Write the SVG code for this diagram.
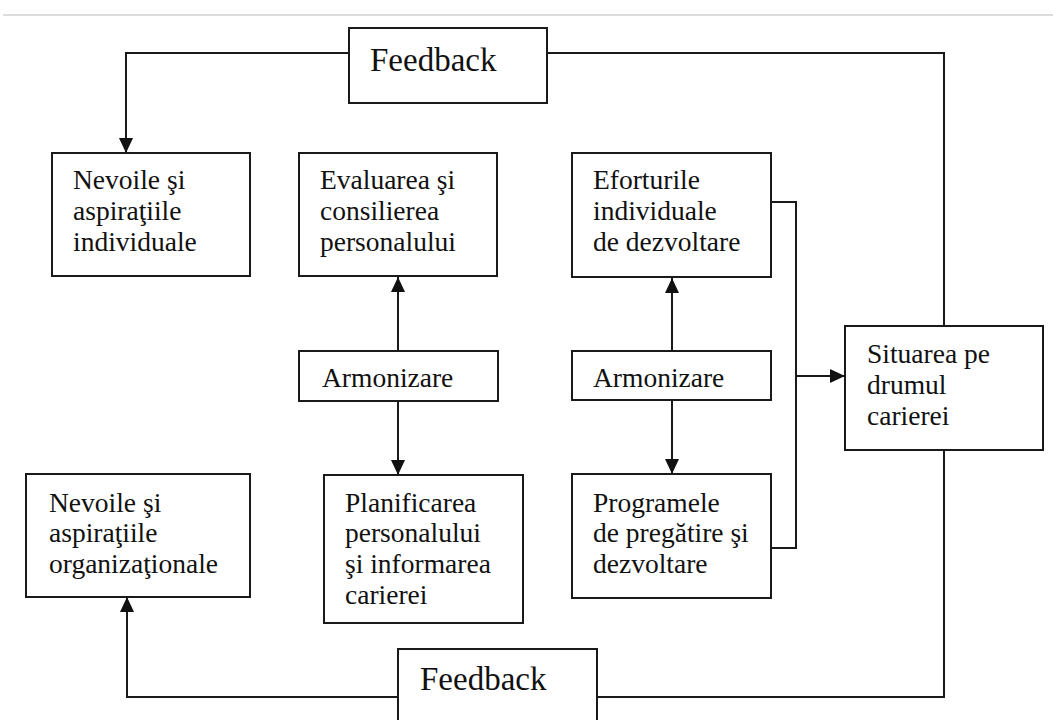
<svg xmlns="http://www.w3.org/2000/svg" width="1053" height="720" viewBox="0 0 1053 720">
  <defs>
    <marker id="arrow" viewBox="0 0 15 14" refX="15" refY="7" markerWidth="15" markerHeight="14" markerUnits="userSpaceOnUse" orient="auto">
      <path d="M0,0 L15,7 L0,14 Z" fill="#111"/>
    </marker>
    <style>
      .box { fill: #fff; stroke: #1a1a1a; stroke-width: 2; }
      .wire { fill: none; stroke: #1a1a1a; stroke-width: 2; }
      .arr { marker-end: url(#arrow); }
    </style>
  </defs>

  <rect width="1053" height="720" fill="#fff"/>
  <line x1="3" y1="15" x2="1053" y2="15" stroke="#dcdcdc" stroke-width="2"/>

  <!-- connectors -->
  <g id="connectors">
    <path class="wire arr" d="M349,53 H126 V153"/>
    <path class="wire" d="M547,53 H944 V326"/>
    <path class="wire arr" d="M398,351 V277"/>
    <path class="wire arr" d="M398,401 V475"/>
    <path class="wire arr" d="M672,351 V278"/>
    <path class="wire arr" d="M672,400 V474"/>
    <path class="wire" d="M771,202 H796 V548 H771"/>
    <path class="wire arr" d="M796,376 H845"/>
    <path class="wire" d="M944,450 V697 H597"/>
    <path class="wire arr" d="M398,697 H127 V597"/>
  </g>

  <g font-family="'Liberation Serif', 'Times New Roman', serif" font-size="27.5" fill="#111">
    <g id="feedback-top">
      <rect class="box" x="349" y="28" width="198" height="75"/>
      <text x="370" y="71" font-size="33">Feedback</text>
    </g>

    <g id="nevoi-individuale">
      <rect class="box" x="52" y="153" width="198" height="123"/>
      <text x="73" y="189">Nevoile şi</text>
      <text x="73" y="220">aspiraţiile</text>
      <text x="73" y="251">individuale</text>
    </g>

    <g id="evaluarea">
      <rect class="box" x="299" y="153" width="198" height="123"/>
      <text x="320" y="189">Evaluarea şi</text>
      <text x="320" y="220">consilierea</text>
      <text x="320" y="251">personalului</text>
    </g>

    <g id="eforturile">
      <rect class="box" x="572" y="153" width="199" height="124"/>
      <text x="593" y="189">Eforturile</text>
      <text x="593" y="220">individuale</text>
      <text x="593" y="251">de dezvoltare</text>
    </g>

    <g id="armonizare-1">
      <rect class="box" x="299" y="351" width="199" height="50"/>
      <text x="322" y="387">Armonizare</text>
    </g>

    <g id="armonizare-2">
      <rect class="box" x="572" y="351" width="199" height="49"/>
      <text x="593" y="387">Armonizare</text>
    </g>

    <g id="situarea">
      <rect class="box" x="845" y="326" width="198" height="124"/>
      <text x="867" y="363">Situarea pe</text>
      <text x="867" y="394">drumul</text>
      <text x="867" y="425">carierei</text>
    </g>

    <g id="nevoi-organizationale">
      <rect class="box" x="26" y="474" width="224" height="123"/>
      <text x="49" y="512">Nevoile şi</text>
      <text x="49" y="542">aspiraţiile</text>
      <text x="49" y="573">organizaţionale</text>
    </g>

    <g id="planificarea">
      <rect class="box" x="324" y="475" width="199" height="148"/>
      <text x="345" y="512">Planificarea</text>
      <text x="345" y="542">personalului</text>
      <text x="345" y="573">şi informarea</text>
      <text x="345" y="604">carierei</text>
    </g>

    <g id="programele">
      <rect class="box" x="572" y="474" width="199" height="124"/>
      <text x="593" y="512">Programele</text>
      <text x="593" y="542">de pregătire şi</text>
      <text x="593" y="573">dezvoltare</text>
    </g>

    <g id="feedback-bottom">
      <rect class="box" x="398" y="649" width="199" height="80"/>
      <text x="420" y="690" font-size="33">Feedback</text>
    </g>
  </g>
</svg>
